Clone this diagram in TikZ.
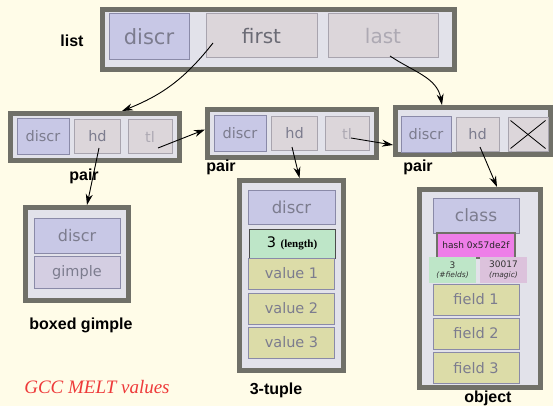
\documentclass[tikz,border=0pt]{standalone}
\usepackage{fontspec}
\setmainfont{DejaVu Sans}
\newfontfamily\tagfont{Liberation Sans}
\newfontfamily\capfont{Liberation Serif}
\usetikzlibrary{arrows.meta}
\definecolor{paper}{HTML}{FFFCE8}
\definecolor{framegray}{HTML}{707068}
\definecolor{framefill}{HTML}{E2E2EA}
\definecolor{discrfill}{HTML}{C8C8E6}
\definecolor{discrline}{HTML}{8A8AA8}
\definecolor{slotfill}{HTML}{DCD6DA}
\definecolor{slotline}{HTML}{A8A4AE}
\definecolor{itemfill}{HTML}{DCDCA8}
\definecolor{celltext}{HTML}{7C7C8E}
\definecolor{faint}{HTML}{ADA9B3}
\definecolor{firsttext}{HTML}{6A6A74}
\definecolor{gimplefill}{HTML}{D4CEE2}
\definecolor{lengthfill}{HTML}{BEE6C8}
\definecolor{hashfill}{HTML}{EE7EE8}
\definecolor{magicfill}{HTML}{DCC2DC}
\definecolor{meltred}{HTML}{EE3A3A}
\tikzset{%
    melt box/.style={
            draw=framegray,
            line width=5pt,
            fill=framefill,
            inner sep=0pt
        },
    cell/.style={
            draw=slotline,
            line width=1pt,
            inner sep=0pt,
            text=celltext,
            font=\fontsize{14.5}{16}\selectfont
        },
    cell discr/.style={cell, fill=discrfill, draw=discrline},
    cell slot/.style={cell, fill=slotfill, draw=slotline},
    cell item/.style={cell, fill=itemfill, draw=discrline},
    box label/.style={font=\tagfont\bfseries\fontsize{16}{18}\selectfont},
    pointer/.style={->, line width=0.9pt},
}

\begin{document}
\begin{tikzpicture}[x=1pt, y=-1pt, >={Stealth[length=11pt, width=7pt]}]

        \useasboundingbox [fill=paper] (0,0) rectangle (553,406);

        % the list
        \node [melt box, minimum width=352pt, minimum height=60pt] (list) at (278.5,39.5) {};
        \node [cell discr, minimum width=80pt, minimum height=46pt, font=\fontsize{21}{24}\selectfont] (list-discr) at (149,37) {discr};
        \node [cell slot, minimum width=111pt, minimum height=44pt, font=\fontsize{20}{24}\selectfont, text=firsttext] (list-first) at (261.5,36) {first};
        \node [cell slot, minimum width=110pt, minimum height=44pt, font=\fontsize{20}{24}\selectfont, text=faint] (list-last) at (383,36) {last};
        \node [box label] (list-label) at (72,41) {list};

        % the pairs
        \foreach \n/\cx/\cy in {1/95/137, 2/292/133.5}
        \node [melt box, minimum width=169pt, minimum height=47pt] (pair-\n) at (\cx,\cy) {};
        \node [melt box, minimum width=155pt, minimum height=47pt] (pair-3) at (473,131) {};

        \foreach \n/\a/\b/\c/\cy in {1/43/97.5/150/136.5, 2/240/294.5/347/133.5} {
            \node [cell discr, minimum width=52pt, minimum height=35pt] (pair-\n-discr) at (\a,\cy) {discr};
            \node [cell slot, minimum width=46pt, minimum height=33pt] (pair-\n-hd) at (\b,\cy) {hd};
            \node [cell slot, minimum width=44pt, minimum height=33pt, text=faint] (pair-\n-tl) at (\c,\cy) {tl};
        }
        \node [cell discr, minimum width=50pt, minimum height=35pt] (pair-3-discr) at (426,134.5) {discr};
        \node [cell slot, minimum width=43pt, minimum height=33pt] (pair-3-hd) at (477.5,134.5) {hd};
        \node [cell slot, minimum width=40pt, minimum height=33pt] (pair-3-nil) at (528,134.5) {};
        \draw [line width=0.8pt] ([shift={(3pt,-3pt)}]pair-3-nil.north west) -- ([shift={(-3pt,3pt)}]pair-3-nil.south east);
        \draw [line width=0.8pt] ([shift={(3pt,3pt)}]pair-3-nil.south west) -- ([shift={(-3pt,-3pt)}]pair-3-nil.north east);

        \foreach \n/\x/\y in {1/84/176, 2/221/167, 3/418/167}
        \node [box label] (pair-\n-label) at (\x,\y) {pair};

        % boxed gimple
        \node [melt box, minimum width=103pt, minimum height=93pt] (gimple) at (77,254) {};
        \node [cell discr, minimum width=86pt, minimum height=35pt, font=\fontsize{16}{18}\selectfont] (gimple-discr) at (77,235.5) {discr};
        \node [cell discr, fill=gimplefill, minimum width=86pt, minimum height=32pt] (gimple-value) at (77,272) {gimple};
        \node [box label] (gimple-label) at (81,325) {boxed gimple};

        % the 3-tuple
        \node [melt box, minimum width=104pt, minimum height=190pt] (tuple) at (291.5,275.5) {};
        \node [cell discr, minimum width=87pt, minimum height=34pt, font=\fontsize{16.5}{18}\selectfont] (tuple-discr) at (291.5,207) {discr};
        \node [cell, fill=lengthfill, draw=black!70, text=black, minimum width=86pt, minimum height=29pt] (tuple-length) at (292,243.5) {3 {\capfont\bfseries\fontsize{11}{12}\selectfont(length)}};
        \foreach \i/\y in {1/273.5, 2/308.5, 3/342.5}
        \node [cell item, minimum width=86pt, minimum height=31pt] (tuple-\i) at (291.5,\y) {value \i};
        \node [box label] (tuple-label) at (276,390) {3-tuple};

        % the object
        \node [melt box, minimum width=121pt, minimum height=198pt] (object) at (480,288.5) {};
        \node [cell discr, minimum width=86pt, minimum height=35pt, font=\fontsize{17}{19}\selectfont] (object-class) at (476,215.5) {class};
        \node [cell, fill=hashfill, draw=framegray, line width=2pt, text=black!85, minimum width=78pt, minimum height=25pt, font=\fontsize{9}{10}\selectfont] (object-hash) at (476,245.5) {hash 0x57de2f};
        \node [fill=lengthfill, inner sep=0pt, minimum width=47pt, minimum height=26pt, align=center, text=black!80, font=\fontsize{9}{9.5}\selectfont] (object-count) at (452.5,270) {3\\{\itshape\fontsize{7.5}{9}\selectfont(\#fields)}};
        \node [fill=magicfill, inner sep=0pt, minimum width=47pt, minimum height=26pt, align=center, text=black!80, font=\fontsize{9}{9.5}\selectfont] (object-magic) at (503.5,270) {30017\\{\itshape\fontsize{7.5}{9}\selectfont(magic)}};
        \foreach \i/\y in {1/299.5, 2/333.5, 3/368}
        \node [cell item, minimum width=86pt, minimum height=31pt] (object-field-\i) at (476,\y) {field \i};
        \node [box label] (object-label) at (488,398) {object};

        \node [text=meltred, font=\capfont\itshape\fontsize{19}{22}\selectfont] (caption) at (97,387) {GCC MELT values};

        % pointers
        \coordinate (first-ptr) at (213,43);
        \coordinate (last-ptr) at (390,56);
        \coordinate (pair-1-hd-ptr) at (99,148);
        \coordinate (pair-1-tl-ptr) at (158,148);
        \coordinate (pair-2-hd-ptr) at (292,147);
        \coordinate (pair-2-tl-ptr) at (351,138);
        \coordinate (pair-3-hd-ptr) at (480,147);

        \draw [pointer] (first-ptr) to [bend left=15] ([xshift=27pt]pair-1.north);
        \draw [pointer] (last-ptr) to [out=-34, in=100] ([xshift=-31pt]pair-3.north);
        \draw [pointer] (pair-1-hd-ptr) -- ([xshift=10pt]gimple.north);
        \draw [pointer] (pair-1-tl-ptr) -- ([yshift=4pt]pair-2.west);
        \draw [pointer] (pair-2-tl-ptr) -- ([yshift=-14pt]pair-3.west);
        \draw [pointer] (pair-2-hd-ptr) -- ([xshift=8pt]tuple.north);
        \draw [pointer] (pair-3-hd-ptr) -- ([xshift=17pt]object.north);

    \end{tikzpicture}
\end{document}
